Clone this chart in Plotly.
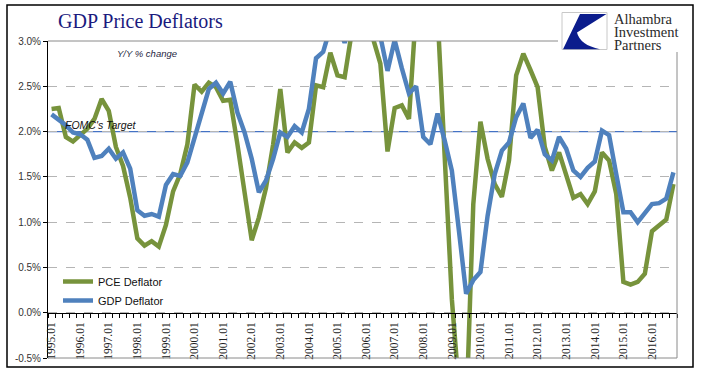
import plotly.graph_objects as go

# ---------------- data ----------------
quarters = [f"{y}.{m:02d}" for y in range(1995, 2017) for m in (1, 4, 7, 10)]

pce_deflator = [
    2.25, 2.26, 1.94, 1.89, 1.96, 2.03, 2.14, 2.36, 2.23, 1.83,
    1.62, 1.27, 0.82, 0.74, 0.79, 0.73, 0.97, 1.34, 1.53, 1.86,
    2.52, 2.44, 2.54, 2.49, 2.34, 2.35, 1.86, 1.34, 0.80, 1.05,
    1.38, 1.86, 2.47, 1.77, 1.88, 1.82, 1.88, 2.51, 2.49, 2.87,
    2.62, 2.60, 3.10, 3.35, 3.25, 3.02, 2.75, 1.78, 2.26, 2.29,
    2.14, 3.35, 3.65, 3.85, 3.30, 1.70, 0.15, -0.85, -1.15, 1.20,
    2.11, 1.70, 1.42, 1.28, 1.68, 2.62, 2.86, 2.68, 2.49, 1.83,
    1.57, 1.77, 1.53, 1.27, 1.31, 1.20, 1.34, 1.77, 1.68, 1.31,
    0.34, 0.31, 0.34, 0.43, 0.90, 0.96, 1.03, 1.42,
]

gdp_deflator = [
    2.19, 2.13, 2.07, 1.99, 1.97, 1.91, 1.71, 1.73, 1.81, 1.70,
    1.77, 1.59, 1.13, 1.07, 1.09, 1.06, 1.41, 1.53, 1.51, 1.66,
    1.94, 2.18, 2.47, 2.54, 2.42, 2.55, 2.21, 1.99, 1.70, 1.33,
    1.46, 1.70, 1.99, 1.94, 2.06, 1.99, 2.25, 2.81, 2.88, 3.15,
    3.20, 2.98, 3.25, 3.35, 3.30, 3.20, 3.05, 2.67, 3.01, 2.70,
    2.42, 2.50, 1.94, 1.86, 2.20, 1.90, 1.57, 0.90, 0.21, 0.36,
    0.45, 1.07, 1.53, 1.79, 1.88, 2.16, 2.31, 1.93, 2.02, 1.75,
    1.68, 1.94, 1.81, 1.57, 1.50, 1.60, 1.67, 2.01, 1.96, 1.53,
    1.11, 1.11, 1.00, 1.10, 1.20, 1.21, 1.26, 1.55,
]

fomc_target = 2.0
y_ticks = [-0.5, 0.0, 0.5, 1.0, 1.5, 2.0, 2.5, 3.0]
y_ticktext = [f"{v:.1f}%" for v in y_ticks]

# ---------------- layout helpers ----------------
W, H = 705, 375
L, R, T, B = 48, 28, 41, 17
PW, PH = W - L - R, H - T - B


def px(x):
    return (x - L) / PW


def py(y):
    return (H - B - y) / PH


idx = list(range(len(quarters)))
label_idx = idx[::4]
label_txt = quarters[::4]

GREEN = "#77933C"
BLUE = "#4F81BD"

fig = go.Figure()
fig.add_trace(go.Scatter(x=idx, y=pce_deflator, mode="lines", name="PCE Deflator",
                         line=dict(color=GREEN, width=4.5)))
fig.add_trace(go.Scatter(x=idx, y=gdp_deflator, mode="lines", name="GDP Deflator",
                         line=dict(color=BLUE, width=4.5)))

shapes = []
# FOMC target line
shapes.append(dict(type="line", xref="paper", yref="y", x0=0, x1=1,
                   y0=fomc_target, y1=fomc_target,
                   line=dict(color="#4472C4", width=1.3), layer="between"))
# white patch under logo
shapes.append(dict(type="rect", xref="paper", yref="paper",
                   x0=px(557), x1=px(690), y0=py(52), y1=py(6),
                   fillcolor="white", line=dict(width=0), layer="above"))
# plot border (gray)
shapes.append(dict(type="line", xref="paper", yref="paper", x0=0, x1=px(558),
                   y0=1, y1=1, line=dict(color="#8a8a8a", width=1), layer="above"))
shapes.append(dict(type="line", xref="paper", yref="paper", x0=1, x1=1,
                   y0=0, y1=py(52), line=dict(color="#8a8a8a", width=1), layer="above"))
shapes.append(dict(type="line", xref="paper", yref="paper", x0=0, x1=1,
                   y0=0, y1=0, line=dict(color="#8a8a8a", width=1), layer="above"))
# outer frame
shapes.append(dict(type="rect", xref="paper", yref="paper",
                   x0=px(7), x1=px(693), y0=py(367), y1=py(5),
                   line=dict(color="black", width=1.5), fillcolor="rgba(0,0,0,0)",
                   layer="above"))
# logo box
shapes.append(dict(type="rect", xref="paper", yref="paper",
                   x0=px(562), x1=px(607), y0=py(49.5), y1=py(12.5),
                   line=dict(color="#c8c8c8", width=1), fillcolor="white", layer="above"))


def P(x, y):
    return f"{px(x):.5f},{py(y):.5f}"


logo_path = (f"M{P(580, 14)} L{P(606.5, 14)} L{P(577, 32.5)} "
             f"Q{P(580, 45)} {P(600, 49.2)} L{P(563, 49.2)} Z")
shapes.append(dict(type="path", xref="paper", yref="paper", path=logo_path,
                   fillcolor="#0b1c8c", line=dict(width=0), layer="above"))

annotations = [
    dict(text="GDP Price Deflators", x=px(56), y=py(21), xref="paper", yref="paper",
         xanchor="left", yanchor="middle", showarrow=False,
         font=dict(family="Liberation Serif", size=20, color="#1a1a7e")),
    dict(text="<i>Y/Y % change</i>", x=px(147), y=py(53), xref="paper", yref="paper",
         xanchor="center", yanchor="middle", showarrow=False,
         font=dict(family="Liberation Sans", size=9.5, color="#1f1f3f")),
    dict(text="<i>FOMC's Target</i>", x=px(63), y=py(124.5), xref="paper", yref="paper",
         xanchor="left", yanchor="middle", showarrow=False,
         font=dict(family="Liberation Sans", size=10.5, color="#111111")),
]
for t, yy in (("Alhambra", 19.5), ("Investment", 32), ("Partners", 44.5)):
    annotations.append(dict(text=t, x=px(612), y=py(yy), xref="paper", yref="paper",
                            xanchor="left", yanchor="middle", showarrow=False,
                            font=dict(family="Liberation Serif", size=14.5, color="#2a2a2a")))

fig.update_layout(
    width=W, height=H,
    margin=dict(l=L, r=R, t=T, b=B, pad=0),
    paper_bgcolor="white", plot_bgcolor="white",
    showlegend=True,
    legend=dict(x=px(58), y=py(267), xanchor="left", yanchor="top",
                bgcolor="rgba(0,0,0,0)", borderwidth=0,
                font=dict(family="Liberation Sans", size=11, color="#111111"),
                tracegroupgap=0, itemwidth=30),
    shapes=shapes,
    annotations=annotations,
    xaxis=dict(
        range=[-0.5, len(quarters) - 0.5],
        anchor="free", position=0.5 / 3.5,
        showline=True, linecolor="black", linewidth=1,
        tickmode="array", tickvals=label_idx, ticktext=label_txt,
        ticks="outside", ticklen=4, tickcolor="rgba(0,0,0,0)",
        tickangle=-90,
        tickfont=dict(family="Liberation Serif", size=11.5, color="#222222"),
        minor=dict(tick0=-0.5, dtick=1, ticks="outside", ticklen=4,
                   tickcolor="black", tickwidth=1, showgrid=False),
        showgrid=False, zeroline=False, automargin=False,
    ),
    yaxis=dict(
        range=[-0.5, 3.0],
        tickmode="array", tickvals=y_ticks, ticktext=y_ticktext,
        ticks="outside", ticklen=4, tickcolor="black",
        showline=True, linecolor="black", linewidth=1,
        showgrid=True, gridcolor="#b5b5b5", griddash="dash", gridwidth=1,
        zeroline=False, automargin=False,
        tickfont=dict(family="Liberation Sans", size=10, color="#333333"),
    ),
)

fig.write_html("out.html", config={"displayModeBar": False},
               post_script="document.body.style.margin='0';document.body.style.overflow='hidden';")
